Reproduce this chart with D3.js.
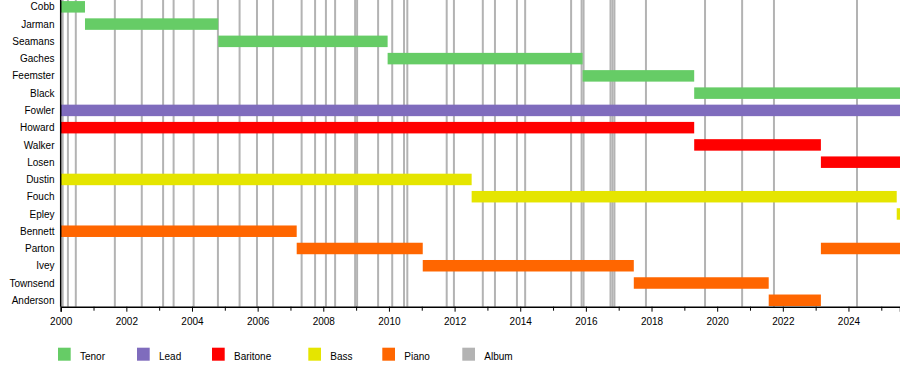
<!DOCTYPE html>
<html>
<head>
<meta charset="utf-8">
<script src="https://cdn.jsdelivr.net/npm/d3@7"></script>
<style>
  body { margin: 0; background: #fff; }
  svg { display: block; font-family: "Liberation Sans", Arial, sans-serif; }
</style>
</head>
<body>
<div id="vis"></div>
<script>
// members, top to bottom
const members = ["Cobb", "Jarman", "Seamans", "Gaches", "Feemster", "Black", "Fowler",
  "Howard", "Walker", "Losen", "Dustin", "Fouch", "Epley", "Bennett", "Parton",
  "Ivey", "Townsend", "Anderson"];

const roles = ["Tenor", "Lead", "Baritone", "Bass", "Piano"];
const legendItems = ["Tenor", "Lead", "Baritone", "Bass", "Piano", "Album"];

const startYear = 2000;
const endYear = 2025.57;

// [member, role, from, to]
const stints = [
  ["Cobb", "Tenor", 2000, 2000.74],
  ["Jarman", "Tenor", 2000.74, 2004.80],
  ["Seamans", "Tenor", 2004.80, 2009.96],
  ["Gaches", "Tenor", 2009.96, 2015.90],
  ["Feemster", "Tenor", 2015.90, 2019.30],
  ["Black", "Tenor", 2019.30, endYear],
  ["Fowler", "Lead", 2000, endYear],
  ["Howard", "Baritone", 2000, 2019.30],
  ["Walker", "Baritone", 2019.30, 2023.16],
  ["Losen", "Baritone", 2023.16, endYear],
  ["Dustin", "Bass", 2000, 2012.52],
  ["Fouch", "Bass", 2012.52, 2025.47],
  ["Epley", "Bass", 2025.47, endYear],
  ["Bennett", "Piano", 2000, 2007.19],
  ["Parton", "Piano", 2007.19, 2011.03],
  ["Parton", "Piano", 2023.16, endYear],
  ["Ivey", "Piano", 2011.03, 2017.46],
  ["Townsend", "Piano", 2017.46, 2021.57],
  ["Anderson", "Piano", 2021.57, 2023.16]
];

// album release dates (decimal years)
const albums = [2000.06, 2000.22, 2000.46, 2001.65, 2002.47, 2003.12, 2003.44, 2004.05,
  2004.79, 2005.45, 2005.98, 2006.47, 2007.34, 2007.75, 2008.08, 2008.36,
  2008.97, 2009.03, 2009.67, 2010.10, 2010.46, 2010.56, 2011.76, 2011.98,
  2012.86, 2013.23, 2013.90, 2014.15, 2015.55, 2015.87, 2015.93,
  2016.75, 2016.81, 2016.87, 2017.83, 2019.63, 2020.76, 2021.73, 2024.26];

const majorTicks = d3.range(2000, 2025, 2);
const minorTicks = d3.range(2001, 2026, 2);

const colors = {
  Tenor: "#66cc66", Lead: "#7f6cbd", Baritone: "#ff0000",
  Bass: "#e5e500", Piano: "#ff6600", Album: "#b3b3b3"
};

const W = 900, H = 386;
const axisY = 306.7;
const svg = d3.select("#vis").append("svg").attr("width", W).attr("height", H);

const x = d3.scaleLinear().domain([startYear, endYear]).range([60.7, 900]);
const y = d3.scaleBand().domain(members).range([-1.8, 308.9]);
const barH = 11.5;

// album lines (behind bars)
svg.append("g").selectAll("line")
  .data(albums)
  .join("line")
    .attr("x1", d => x(d)).attr("x2", d => x(d))
    .attr("y1", 0).attr("y2", axisY)
    .attr("stroke", colors.Album)
    .attr("stroke-width", 2);

// member bars
svg.append("g").selectAll("rect")
  .data(stints)
  .join("rect")
    .attr("x", d => x(d[2]))
    .attr("width", d => x(d[3]) - x(d[2]))
    .attr("y", d => y(d[0]) + (y.bandwidth() - barH) / 2)
    .attr("height", barH)
    .attr("fill", d => colors[d[1]]);

// row labels
svg.append("g").selectAll("text")
  .data(members)
  .join("text")
    .attr("x", 54.5)
    .attr("y", d => y(d) + y.bandwidth() / 2 + 3.6)
    .attr("text-anchor", "end")
    .attr("font-size", 10)
    .attr("fill", "#000")
    .text(d => d);

// left axis line
svg.append("line")
  .attr("x1", 60.7).attr("x2", 60.7)
  .attr("y1", 0).attr("y2", axisY)
  .attr("stroke", "#000").attr("stroke-width", 1.5);

// bottom axis, labelled every 2 years
const xAxis = svg.append("g")
  .attr("transform", `translate(0,${axisY})`)
  .call(d3.axisBottom(x).tickValues(majorTicks).tickFormat(d3.format("d")).tickSize(5).tickPadding(6));
xAxis.select(".domain").attr("stroke-width", 1.5);
xAxis.selectAll("text").attr("font-size", 10).attr("font-family", "Liberation Sans, Arial, sans-serif");

svg.append("g")
  .attr("transform", `translate(0,${axisY})`)
  .call(d3.axisBottom(x).tickValues(minorTicks).tickFormat("").tickSize(4))
  .select(".domain").remove();

// legend
const legendX = [58, 137, 212, 308.3, 382.3, 462.3];
const legend = svg.append("g").selectAll("g")
  .data(legendItems)
  .join("g")
    .attr("transform", (d, i) => `translate(${legendX[i]},347.7)`);
legend.append("rect")
  .attr("width", 12.7).attr("height", 13)
  .attr("fill", d => colors[d]);
legend.append("text")
  .attr("x", 22).attr("y", 12.8)
  .attr("font-size", 10)
  .text(d => d);
</script>
</body>
</html>
